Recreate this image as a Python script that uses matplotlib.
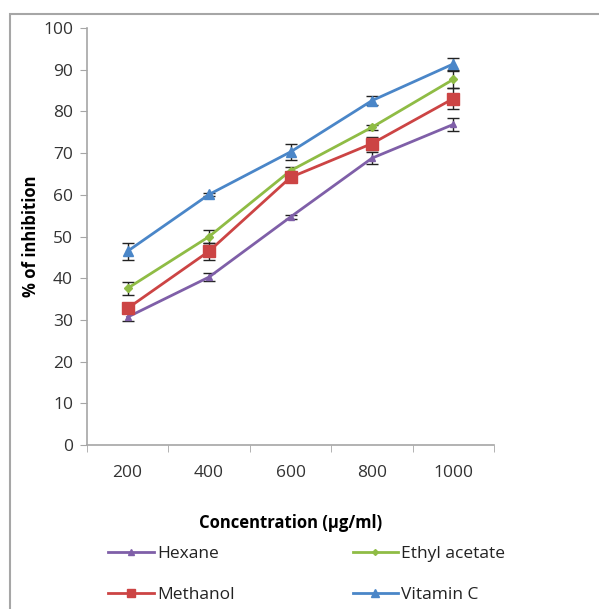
import matplotlib
matplotlib.use('Agg')
import matplotlib.pyplot as plt
from matplotlib.patches import Rectangle
import numpy as np

concentrations = ['200', '400', '600', '800', '1000']

hexane = [30.7, 40.3, 54.7, 68.8, 76.9]
hexane_err = [1.0, 1.0, 0.4, 1.5, 1.5]

ethyl_acetate = [37.6, 50.0, 65.8, 76.2, 87.7]
ethyl_acetate_err = [1.5, 1.5, 0.8, 0.6, 2.0]

methanol = [32.8, 46.5, 64.2, 72.3, 83.1]
methanol_err = [1.0, 2.0, 1.0, 1.5, 2.5]

vitamin_c = [46.5, 60.1, 70.3, 82.6, 91.4]
vitamin_c_err = [2.0, 0.4, 2.0, 1.0, 1.5]

plt.rcParams['font.family'] = ['Open Sans', 'DejaVu Sans']

fig = plt.figure(figsize=(5.99, 6.09), dpi=100)
ax = fig.add_axes([0.145, 0.269, 0.68, 0.685])

# outer chart border (cut off at right/bottom in the reference)
fig.patches.append(Rectangle((10 / 599, -0.1), 1.2, (609 - 14) / 609 + 0.1,
                             transform=fig.transFigure, fill=False,
                             edgecolor='#a6a6a6', linewidth=1.5))

x = np.arange(len(concentrations))
series = [
    ('Hexane', hexane, hexane_err, '#7f5fa8', '^', 5),
    ('Ethyl acetate', ethyl_acetate, ethyl_acetate_err, '#8fbc45', 'D', 4),
    ('Methanol', methanol, methanol_err, '#cc4444', 's', 8),
    ('Vitamin C', vitamin_c, vitamin_c_err, '#4a86c8', '^', 7),
]
handles = {}
for name, vals, err, col, mk, ms in series:
    ax.errorbar(x, vals, yerr=err, fmt='none', ecolor='#222222',
                elinewidth=1, capsize=4, capthick=1, zorder=2)
    h, = ax.plot(x, vals, color=col, marker=mk, markersize=ms,
                 linewidth=2, label=name, zorder=3)
    handles[name] = h

ax.set_xlim(-0.5, 4.5)
ax.set_ylim(0, 100)
ax.set_yticks(range(0, 101, 10))
ax.set_xticks(x)
ax.set_xticklabels(concentrations)
ax.set_xticks(np.arange(-0.5, 5, 1), minor=True)
ax.tick_params(axis='x', which='major', length=0, pad=14, labelsize=12.5)
ax.tick_params(axis='x', which='minor', length=5, color='#a6a6a6', direction='out')
ax.tick_params(axis='y', length=5, color='#a6a6a6', labelsize=12.5, pad=5)
for lbl in ax.get_xticklabels() + ax.get_yticklabels():
    lbl.set_color('#333333')

for s in ['top', 'right']:
    ax.spines[s].set_visible(False)
for s in ['left', 'bottom']:
    ax.spines[s].set_color('#a6a6a6')
    ax.spines[s].set_linewidth(1.2)

ax.set_xlabel('Concentration (µg/ml)', fontsize=12, fontweight='bold', labelpad=24)
ax.set_ylabel('% of inhibition', fontsize=12, fontweight='bold', labelpad=2)

order = ['Hexane', 'Methanol', 'Ethyl acetate', 'Vitamin C']
leg = fig.legend([handles[n] for n in order], order, loc='upper left',
                 bbox_to_anchor=(0.155, 0.13), ncol=2, frameon=False,
                 fontsize=12.5, handlelength=2.6, columnspacing=6.8,
                 handletextpad=0.2, labelspacing=1.45, markerscale=0.75)
for t in leg.get_texts():
    t.set_color('#222222')

fig.savefig('out.png', dpi=100)
